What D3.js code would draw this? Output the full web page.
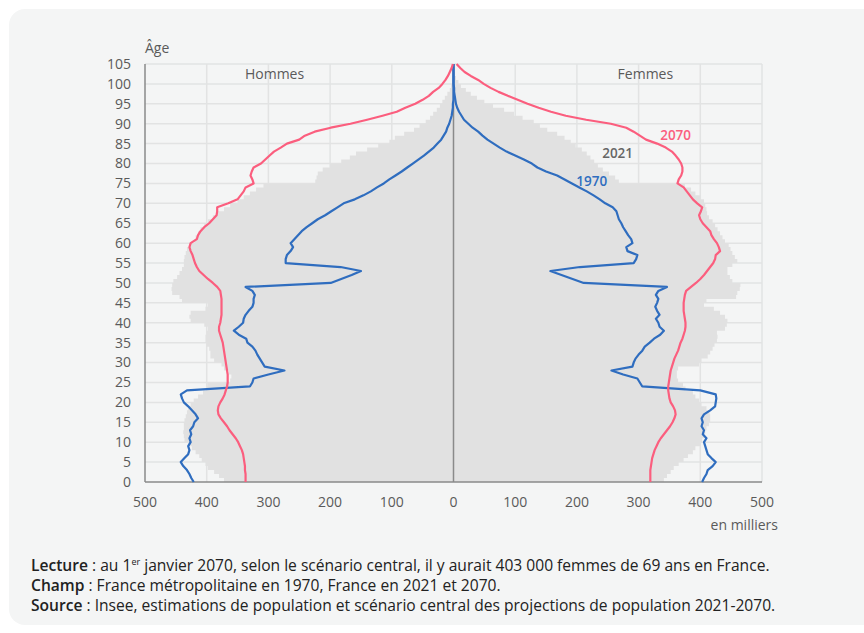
<!DOCTYPE html>
<html>
<head>
<meta charset="utf-8">
<script src="https://cdn.jsdelivr.net/npm/d3@7"></script>
<style>
  body { margin: 0; background: #ffffff; }
  text { font-family: "Open Sans", "Noto Sans", sans-serif; }
</style>
</head>
<body>
<svg id="chart" width="864" height="633"></svg>
<script>
// ages 0 to 105
let ages = [0,1,2,3,4,5,6,7,8,9,10,11,12,13,14,15,16,17,18,19,
  20,21,22,23,24,25,26,27,28,29,30,31,32,33,34,35,36,37,38,39,
  40,41,42,43,44,45,46,47,48,49,50,51,52,53,54,55,56,57,58,59,
  60,61,62,63,64,65,66,67,68,69,70,71,72,73,74,75,76,77,78,79,
  80,81,82,83,84,85,86,87,88,89,90,91,92,93,94,95,96,97,98,99,
  100,101,102,103,104,105];

// population in thousands
let men2021 = [372,380,388,398,402,408,412,418,424,430,
  436,437,438,437,437,436,434,432,430,426,
  421,414,406,400,399,362,360,364,372,376,
  388,394,394,396,400,402,402,400,398,404,
  426,428,426,402,398,440,444,456,457,456,
  454,448,444,440,437,437,436,434,432,428,
  420,418,414,410,404,398,390,384,372,362,
  350,340,330,320,308,224,222,220,212,200,
  182,168,158,140,122,104,95,80,64,55,
  45,38,33,27,22,18,14,10,6,4,
  2,1,0,0,0,0];
let women2021 = [341,346,352,357,365,373,380,388,392,400,
  403,406,408,410,414,416,416,415,410,402,
  398,392,388,376,372,364,362,362,364,398,
  402,412,416,420,423,427,428,427,440,443,
  444,440,432,422,406,410,458,460,464,465,
  452,448,444,444,452,460,456,452,449,446,
  440,436,432,428,424,420,414,411,410,408,
  406,400,392,385,375,268,262,252,242,234,
  228,222,216,208,198,190,180,168,152,140,
  130,112,98,82,64,50,38,28,20,12,
  8,4,2,1,0,0];
let men1970 = [421,425,428,432,438,442,436,430,428,430,
  426,428,425,427,422,420,414,418,424,430,
  437,440,442,432,330,326,324,300,274,306,
  310,314,318,321,326,334,336,348,356,348,
  341,340,337,332,326,324,324,322,326,337,
  199,182,165,150,183,272,272,270,264,260,
  264,258,252,246,238,229,220,208,198,188,
  178,160,146,134,124,113,104,94,84,75,
  66,57,48,40,32,26,20,16,12,10,
  7,5,3,2,1,1,0,0,0,0,
  0,0,0,0,0,0];
let women1970 = [403,406,410,412,420,425,418,412,410,408,
  406,410,404,406,402,404,402,406,416,424,
  425,426,425,400,306,302,298,275,256,290,
  292,295,300,306,310,318,325,335,341,334,
  332,328,334,330,327,330,332,328,332,346,
  211,193,175,157,205,292,296,298,282,280,
  290,288,283,279,275,272,268,266,264,258,
  246,237,227,216,204,192,180,168,150,136,
  127,114,100,86,75,65,55,47,40,31,
  24,17,13,9,6,4,3,2,1,1,
  0,0,0,0,0,0];
let men2070 = [337,337,337,338,338,339,340,341,343,346,
  349,353,358,363,367,372,377,381,382,381,
  378,374,371,369,367,366,366,366,367,368,
  369,370,371,372,373,374,376,378,380,380,
  378,377,376,376,376,376,376,377,378,383,
  390,398,405,412,416,419,421,423,426,428,
  426,416,414,410,404,396,390,384,383,383,
  365,350,345,340,337,324,326,329,327,324,
  312,305,298,291,280,270,250,241,225,199,
  167,140,115,92,78,62,50,40,33,24,
  18,13,9,6,3,1];
let women2070 = [319,319,319,319,320,321,322,324,326,329,
  332,336,341,346,351,355,358,360,359,356,
  352,350,349,348,348,349,350,351,352,354,
  356,358,361,364,366,368,371,373,375,376,
  376,375,374,373,373,373,374,375,377,385,
  393,400,406,411,416,421,424,425,432,430,
  427,422,418,416,410,404,400,398,401,403,
  395,388,383,378,373,363,365,369,371,371,
  369,365,360,354,344,330,312,302,292,280,
  255,215,182,158,138,120,104,88,73,60,
  49,40,28,18,11,5];

let xTicks = [-500,-400,-300,-200,-100,0,100,200,300,400,500];
let yTicks = [0,5,10,15,20,25,30,35,40,45,50,55,60,65,70,75,80,85,90,95,100,105];

let footLines = [
  ["Lecture", " : au 1", "er", " janvier 2070, selon le scénario central, il y aurait 403 000 femmes de 69 ans en France."],
  ["Champ", " : France métropolitaine en 1970, France en 2021 et 2070."],
  ["Source", " : Insee, estimations de population et scénario central des projections de population 2021-2070."]
];

let col = {
  bg: "#f4f5f5",
  grid: "#e2e3e3",
  axis: "#8a8a8a",
  fill2021: "#e1e1e1",
  line1970: "#2f6dbf",
  line2070: "#fb5e7e",
  text: "#5a5a5a"
};

var drawPyramid = function() {
  let svg = d3.select("#chart");

  // card behind everything
  svg.append("rect")
    .attr("x", 9).attr("y", 9)
    .attr("width", 880).attr("height", 616)
    .attr("rx", 16)
    .attr("fill", col.bg);

  let x = d3.scaleLinear().domain([-500, 500]).range([145, 762]);
  let y = d3.scaleLinear().domain([0, 105]).range([482, 64]);

  let plot = svg.append("g").attr("id", "plot");

  // grid
  plot.selectAll("line.hgrid")
    .data(yTicks.filter(d => d > 0))
    .enter().append("line")
    .attr("class", "hgrid")
    .attr("x1", x(-500)).attr("x2", x(500))
    .attr("y1", d => y(d)).attr("y2", d => y(d))
    .attr("stroke", col.grid).attr("stroke-width", 1.5);
  plot.selectAll("line.vgrid")
    .data(xTicks.filter(d => d != 0 && d != -500))
    .enter().append("line")
    .attr("class", "vgrid")
    .attr("x1", d => x(d)).attr("x2", d => x(d))
    .attr("y1", y(105)).attr("y2", y(0))
    .attr("stroke", col.grid).attr("stroke-width", 1.5);

  svg.append("clipPath").attr("id", "clip")
    .append("rect")
    .attr("x", x(-500)).attr("y", y(105))
    .attr("width", x(500) - x(-500)).attr("height", y(0) - y(105));

  // 2021 as steps, one band per age
  let stepArea = d3.area()
    .curve(d3.curveStepBefore)
    .y(d => y(d.age))
    .x0(x(0))
    .x1(d => x(d.v));

  let men21 = ages.map((a, i) => ({age: a, v: -men2021[i]}));
  men21.push({age: 106, v: 0});
  let women21 = ages.map((a, i) => ({age: a, v: women2021[i]}));
  women21.push({age: 106, v: 0});

  let bars = plot.append("g").attr("clip-path", "url(#clip)");
  bars.append("path").datum(men21).attr("d", stepArea).attr("fill", col.fill2021);
  bars.append("path").datum(women21).attr("d", stepArea).attr("fill", col.fill2021);

  // axes lines
  plot.append("line")
    .attr("x1", x(-500)).attr("x2", x(-500))
    .attr("y1", y(105)).attr("y2", y(0))
    .attr("stroke", col.axis).attr("stroke-width", 1.5);
  plot.append("line")
    .attr("x1", x(0)).attr("x2", x(0))
    .attr("y1", y(105)).attr("y2", y(0))
    .attr("stroke", col.axis).attr("stroke-width", 1.5);
  plot.append("line")
    .attr("x1", x(-500)).attr("x2", x(500))
    .attr("y1", y(0)).attr("y2", y(0))
    .attr("stroke", col.axis).attr("stroke-width", 1.5);

  // lines 1970 and 2070
  let ageLine = d3.line()
    .x(d => x(d.v))
    .y(d => y(d.age));

  let series = [
    {data: men1970, sign: -1, color: col.line1970},
    {data: women1970, sign: 1, color: col.line1970},
    {data: men2070, sign: -1, color: col.line2070},
    {data: women2070, sign: 1, color: col.line2070}
  ];
  series.forEach(function(s) {
    plot.append("path")
      .datum(ages.map((a, i) => ({age: a, v: s.sign * s.data[i]})))
      .attr("d", ageLine)
      .attr("fill", "none")
      .attr("stroke", s.color)
      .attr("stroke-width", 2.2)
      .attr("stroke-linejoin", "round");
  });

  // tick labels
  svg.selectAll("text.ytick")
    .data(yTicks)
    .enter().append("text")
    .attr("class", "ytick")
    .attr("x", 131)
    .attr("y", d => y(d))
    .attr("dy", "0.35em")
    .attr("text-anchor", "end")
    .attr("font-size", 14)
    .attr("fill", col.text)
    .text(d => d);

  svg.selectAll("text.xtick")
    .data(xTicks)
    .enter().append("text")
    .attr("class", "xtick")
    .attr("x", d => x(d))
    .attr("y", 507)
    .attr("text-anchor", "middle")
    .attr("font-size", 14)
    .attr("fill", col.text)
    .text(d => Math.abs(d));

  svg.append("text").attr("x", 145).attr("y", 53)
    .attr("font-size", 14).attr("fill", col.text).text("Âge");
  svg.append("text").attr("x", 778).attr("y", 530)
    .attr("text-anchor", "end")
    .attr("font-size", 14).attr("fill", col.text).text("en milliers");

  svg.append("text").attr("x", x(-290)).attr("y", 79)
    .attr("text-anchor", "middle")
    .attr("font-size", 14).attr("fill", col.text).text("Hommes");
  svg.append("text").attr("x", x(311)).attr("y", 79)
    .attr("text-anchor", "middle")
    .attr("font-size", 14).attr("fill", col.text).text("Femmes");

  // series labels next to the curves
  let labels = [
    {t: "2070", v: 360, age: 87.2, c: col.line2070},
    {t: "2021", v: 266, age: 82.7, c: "#666666"},
    {t: "1970", v: 224, age: 75.6, c: col.line1970}
  ];
  svg.selectAll("text.serie")
    .data(labels)
    .enter().append("text")
    .attr("class", "serie")
    .attr("x", d => x(d.v))
    .attr("y", d => y(d.age))
    .attr("dy", "0.35em")
    .attr("text-anchor", "middle")
    .attr("font-size", 13.5)
    .attr("font-weight", 600)
    .attr("fill", d => d.c)
    .text(d => d.t);

  // notes under the chart
  let foot = svg.append("g");
  footLines.forEach(function(l, i) {
    let t = foot.append("text")
      .attr("x", 31)
      .attr("y", 571 + i * 20)
      .attr("font-size", 15.6)
      .attr("fill", "#222");
    t.append("tspan").attr("font-weight", 600).text(l[0]);
    t.append("tspan").text(l[1]);
    if (l.length > 2) {
      t.append("tspan").attr("font-size", 9).attr("dy", -6).text(l[2]);
      t.append("tspan").attr("dy", 6).text(l[3]);
    }
  });
};
drawPyramid();
</script>
</body>
</html>
